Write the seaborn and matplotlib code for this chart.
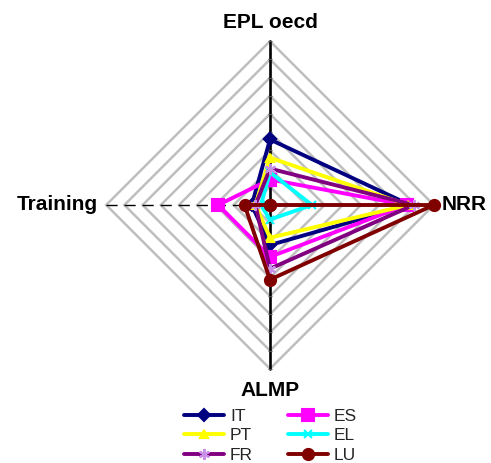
import numpy as np
import pandas as pd
import matplotlib
matplotlib.use("Agg")
import matplotlib.pyplot as plt
import seaborn as sns

# ---- data ----
axes_labels = ["EPL oecd", "NRR", "ALMP", "Training"]
countries = ["IT", "ES", "PT", "EL", "FR", "LU"]
IT = [3.6, 7.7, 2.2, 1.0]
ES = [1.4, 7.5, 2.85, 2.85]
PT = [2.6, 7.6, 1.8, 0.8]
EL = [1.8, 2.3, 0.8, 0.5]
FR = [2.0, 7.9, 3.5, 0.8]
LU = [0.0, 9.0, 4.1, 1.4]
series_values = [IT, ES, PT, EL, FR, LU]
ring_levels = list(range(1, 10))

colors = {"IT": "#000080", "ES": "#FF00FF", "PT": "#FFFF00",
          "EL": "#00FFFF", "FR": "#800080", "LU": "#800000"}
markers = {"IT": "D", "ES": "s", "PT": "^", "EL": "x", "FR": (6, 2, 0), "LU": "o"}
msizes = {"IT": 6, "ES": 9, "PT": 6, "EL": 6, "FR": 8, "LU": 8}
mcolors = {"IT": "#000080", "ES": "#FF00FF", "PT": "#FFFF00",
           "EL": "#00FFFF", "FR": "#C890E8", "LU": "#800000"}

sns.set_style("white")
plt.rcParams['font.family'] = ['Liberation Sans', 'DejaVu Sans']

angles = np.deg2rad([90, 0, -90, 180])
cx, cy, unit = 270.0, 205.0, 18.2
W, H = 491, 463

fig = plt.figure(figsize=(W / 100, H / 100), dpi=100)
ax = fig.add_axes([0, 0, 1, 1])
ax.set_xlim(-cx / unit, (W - cx) / unit)
ax.set_ylim((cy - H) / unit, cy / unit)
ax.axis("off")

# grid diamonds
for r in ring_levels:
    xs = np.r_[r * np.cos(angles), r * np.cos(angles[0])]
    ys = np.r_[r * np.sin(angles), r * np.sin(angles[0])]
    ax.plot(xs, ys, color="#BEBEBE", lw=1.8, zorder=1, solid_joinstyle="miter")

rmax = ring_levels[-1]
# axis lines
ax.plot([0, 0], [0, rmax], color="black", lw=1.9, zorder=2)
ax.plot([0, 0], [0, -rmax], color="black", lw=1.9, zorder=2)
ax.plot([0, rmax], [0, 0], color="black", lw=1.2, zorder=2)
ax.plot([-rmax, 0], [0, 0], color="black", lw=1.0, ls=(0, (8, 5)), zorder=2)
ticks = np.array(ring_levels, dtype=float)
ax.plot(np.zeros(len(ticks) * 2), np.r_[ticks, -ticks], ls="none", marker="_",
        ms=2.5, mew=0.8, color="#555555", zorder=2)

# series
handles = {}
for name, vals in zip(countries, series_values):
    v = np.array(vals)
    xs = np.r_[v * np.cos(angles), v[0] * np.cos(angles[0])]
    ys = np.r_[v * np.sin(angles), v[0] * np.sin(angles[0])]
    df = pd.DataFrame({"x": xs, "y": ys})
    sns.lineplot(data=df, x="x", y="y", sort=False, estimator=None, ax=ax,
                 color=colors[name], lw=2.8, marker=markers[name],
                 markersize=msizes[name], markerfacecolor=mcolors[name],
                 markeredgecolor=mcolors[name], mew=1.5, zorder=3)
    handles[name] = ax.lines[-1]

# category labels
lab_kw = dict(fontsize=15, fontweight="bold", color="black")
ax.text(0, (cy - 23) / unit, axes_labels[0], ha="center", va="center", **lab_kw)
ax.text((442 - cx) / unit, 0, axes_labels[1], ha="left", va="center", **lab_kw)
ax.text(0, -(390 - cy) / unit, axes_labels[2], ha="center", va="center", **lab_kw)
ax.text((98 - cx) / unit, 0, axes_labels[3], ha="right", va="center", **lab_kw)

order = ["IT", "PT", "FR", "ES", "EL", "LU"]
leg = fig.legend([handles[k] for k in order], order, ncol=2, loc="upper left",
                 bbox_to_anchor=(184 / W, (H - 409) / H), frameon=False,
                 fontsize=12.5, handlelength=2.3, handletextpad=0.35,
                 columnspacing=2.0, labelspacing=0.24, borderpad=0,
                 borderaxespad=0)

fig.savefig("out.png", dpi=100)
